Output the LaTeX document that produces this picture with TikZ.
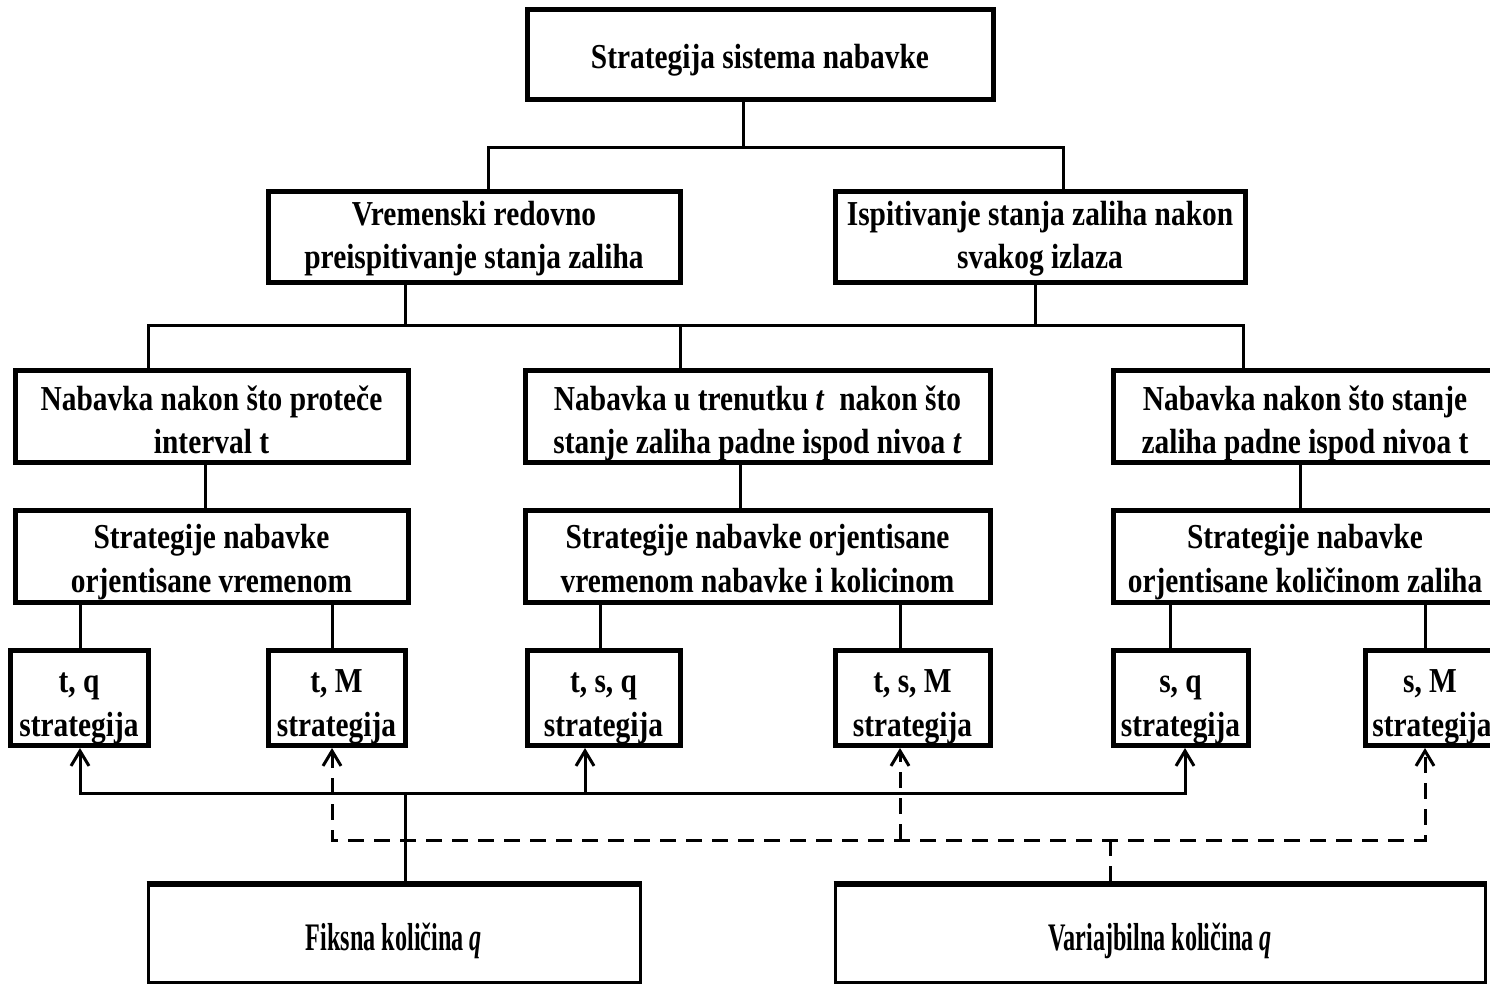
\documentclass[tikz,border=0pt]{standalone}
\usepackage{fontspec}
\setmainfont[FakeStretch=0.84]{Liberation Serif}
\newfontfamily\basefont[FakeStretch=0.62]{Liberation Serif}
\usetikzlibrary{arrows.meta}

\begin{document}
\begin{tikzpicture}[x=1pt,y=-1pt,
  box/.style={draw,line width=5pt,inner sep=0pt},
  basebox/.style={draw,line width=3pt,inner sep=0pt},
  txt/.style={anchor=base,inner sep=0pt,font=\fontsize{35}{42}\selectfont\bfseries},
  basetxt/.style={anchor=base,inner sep=0pt,font=\basefont\fontsize{39}{42}\selectfont\bfseries},
  conn/.style={line width=3pt},
  dconn/.style={line width=3pt,dash pattern=on 16pt off 10pt},
  tip/.tip={Straight Barb[length=15pt,width=18pt,line width=3pt]},
  up/.style={-tip}]

\fill[white] (0,0) rectangle (1490,984);
\clip (0,0) rectangle (1490,984);

% ---- boxes ----
\node[box,minimum width=466pt,minimum height=90pt] (top) at (760,55) {};
\node[box,minimum width=412pt,minimum height=90pt] (L2a) at (474,237) {};
\node[box,minimum width=410pt,minimum height=90pt] (L2b) at (1040,237) {};

\node[box,minimum width=393pt,minimum height=92pt] (L3a) at (211.5,416.5) {};
\node[box,minimum width=465pt,minimum height=92pt] (L3b) at (757.5,416.5) {};
\node[box,minimum width=382pt,minimum height=92pt] (L3c) at (1304,416.5) {};

\node[box,minimum width=393pt,minimum height=92pt] (L4a) at (211.5,556.5) {};
\node[box,minimum width=465pt,minimum height=92pt] (L4b) at (757.5,556.5) {};
\node[box,minimum width=382pt,minimum height=92pt] (L4c) at (1304,556.5) {};

\node[box,minimum width=138pt,minimum height=95pt] (b1) at (79,698) {};
\node[box,minimum width=137pt,minimum height=95pt] (b2) at (336.5,698) {};
\node[box,minimum width=153pt,minimum height=95pt] (b3) at (603.5,698) {};
\node[box,minimum width=155pt,minimum height=95pt] (b4) at (912.5,698) {};
\node[box,minimum width=135pt,minimum height=95pt] (b5) at (1180.5,698) {};
\node[box,minimum width=130pt,minimum height=95pt] (b6) at (1430,698) {};

\node[basebox,minimum width=492pt,minimum height=97pt] (F) at (394,933.5) {};
\node[basebox,minimum width=650pt,minimum height=97pt] (V) at (1160,933.5) {};
\draw[line width=6pt] (F.north west) -- (F.north east);
\draw[line width=6pt] (V.north west) -- (V.north east);

% ---- box texts ----
\node[txt] (top-t) at (760,69) {Strategija sistema nabavke};

\node[txt] (L2a-t1) at (474,226) {Vremenski redovno};
\node[txt] (L2a-t2) at (474,269) {preispitivanje stanja zaliha};
\node[txt] (L2b-t1) at (1040,226) {Ispitivanje stanja zaliha nakon};
\node[txt] (L2b-t2) at (1040,269) {svakog izlaza};

\node[txt] (L3a-t1) at (211.5,410) {Nabavka nakon što proteče};
\node[txt] (L3a-t2) at (211.5,453) {interval t};
\node[txt] (L3b-t1) at (757.5,410) {Nabavka u trenutku \textit{t}\ \ nakon što};
\node[txt] (L3b-t2) at (757.5,453) {stanje zaliha padne ispod nivoa \textit{t}};
\node[txt] (L3c-t1) at (1305,410) {Nabavka nakon što stanje};
\node[txt] (L3c-t2) at (1305,453) {zaliha padne ispod nivoa t};

\node[txt] (L4a-t1) at (211.5,548) {Strategije nabavke};
\node[txt] (L4a-t2) at (211.5,592) {orjentisane vremenom};
\node[txt] (L4b-t1) at (757.5,548) {Strategije nabavke orjentisane};
\node[txt] (L4b-t2) at (757.5,592) {vremenom nabavke i kolicinom};
\node[txt] (L4c-t1) at (1305,548) {Strategije nabavke};
\node[txt] (L4c-t2) at (1305,592) {orjentisane količinom zaliha};

\node[txt] (b1-t1) at (79,692) {t, q};
\node[txt] (b1-t2) at (79,736) {strategija};
\node[txt] (b2-t1) at (336.5,692) {t, M};
\node[txt] (b2-t2) at (336.5,736) {strategija};
\node[txt] (b3-t1) at (603.5,692) {t, s, q};
\node[txt] (b3-t2) at (603.5,736) {strategija};
\node[txt] (b4-t1) at (912.5,692) {t, s, M};
\node[txt] (b4-t2) at (912.5,736) {strategija};
\node[txt] (b5-t1) at (1180.5,692) {s, q};
\node[txt] (b5-t2) at (1180.5,736) {strategija};
\node[txt] (b6-t1) at (1430,692) {s, M};
\node[txt] (b6-t2) at (1432,736) {strategija};

\node[basetxt] (F-t) at (394,950) {Fiksna količina \textit{q}};
\node[basetxt] (V-t) at (1160,950) {Variajbilna količina \textit{q}};

% ---- tree connectors ----
\coordinate (j1) at (743,148);
\coordinate (b1l) at (488,148);
\coordinate (b1r) at (1063,148);
\draw[conn] (j1 |- top.south) -- (j1);
\draw[conn] (b1l |- L2a.north) -- (b1l) -- (b1r) -- (b1r |- L2b.north);

\coordinate (j2a) at (405,325);
\coordinate (j2b) at (1035,325);
\coordinate (b2l) at (148,325);
\coordinate (b2m) at (680,325);
\coordinate (b2r) at (1243,325);
\draw[conn] (j2a |- L2a.south) -- (j2a);
\draw[conn] (j2b |- L2b.south) -- (j2b);
\draw[conn] (b2l |- L3a.north) -- (b2l) -- (b2r) -- (b2r |- L3c.north);
\draw[conn] (b2m) -- (b2m |- L3b.north);

\draw[conn] ([xshift=-6.5pt]L3a.south) -- ([xshift=-6.5pt]L4a.north);
\draw[conn] ([xshift=-17.5pt]L3b.south) -- ([xshift=-17.5pt]L4b.north);
\draw[conn] ([xshift=-4pt]L3c.south) -- ([xshift=-4pt]L4c.north);

\draw[conn] ([xshift=1pt]b1.north) -- ([xshift=1pt]b1.north |- L4a.south);
\draw[conn] ([xshift=-4pt]b2.north) -- ([xshift=-4pt]b2.north |- L4a.south);
\draw[conn] ([xshift=-3pt]b3.north) -- ([xshift=-3pt]b3.north |- L4b.south);
\draw[conn] ([xshift=-12pt]b4.north) -- ([xshift=-12pt]b4.north |- L4b.south);
\draw[conn] ([xshift=-10pt]b5.north) -- ([xshift=-10pt]b5.north |- L4c.south);
\draw[conn] ([xshift=-5pt]b6.north) -- ([xshift=-5pt]b6.north |- L4c.south);

% ---- fixed quantity bus (solid) ----
\coordinate (s1) at (80,793);
\coordinate (s2) at (1185,793);
\coordinate (s3) at (585,793);
\coordinate (s4) at (405,793);
\draw[conn,tip-tip] (s1 |- b1.south) -- (s1) -- (s2) -- (s2 |- b5.south);
\draw[conn,up] (s3) -- (s3 |- b3.south);
\draw[conn] (s4) -- (s4 |- F.north);

% ---- variable quantity bus (dashed) ----
\coordinate (d1) at (332,840);
\coordinate (d2) at (1425,840);
\coordinate (d3) at (900,840);
\coordinate (d4) at (1110,840);
\draw[dconn,tip-tip] (d1 |- b2.south) -- (d1) -- (d2) -- (d2 |- b6.south);
\draw[dconn,up] (d3) -- (d3 |- b4.south);
\draw[dconn] (d4) -- (d4 |- V.north);
\end{tikzpicture}
\end{document}
